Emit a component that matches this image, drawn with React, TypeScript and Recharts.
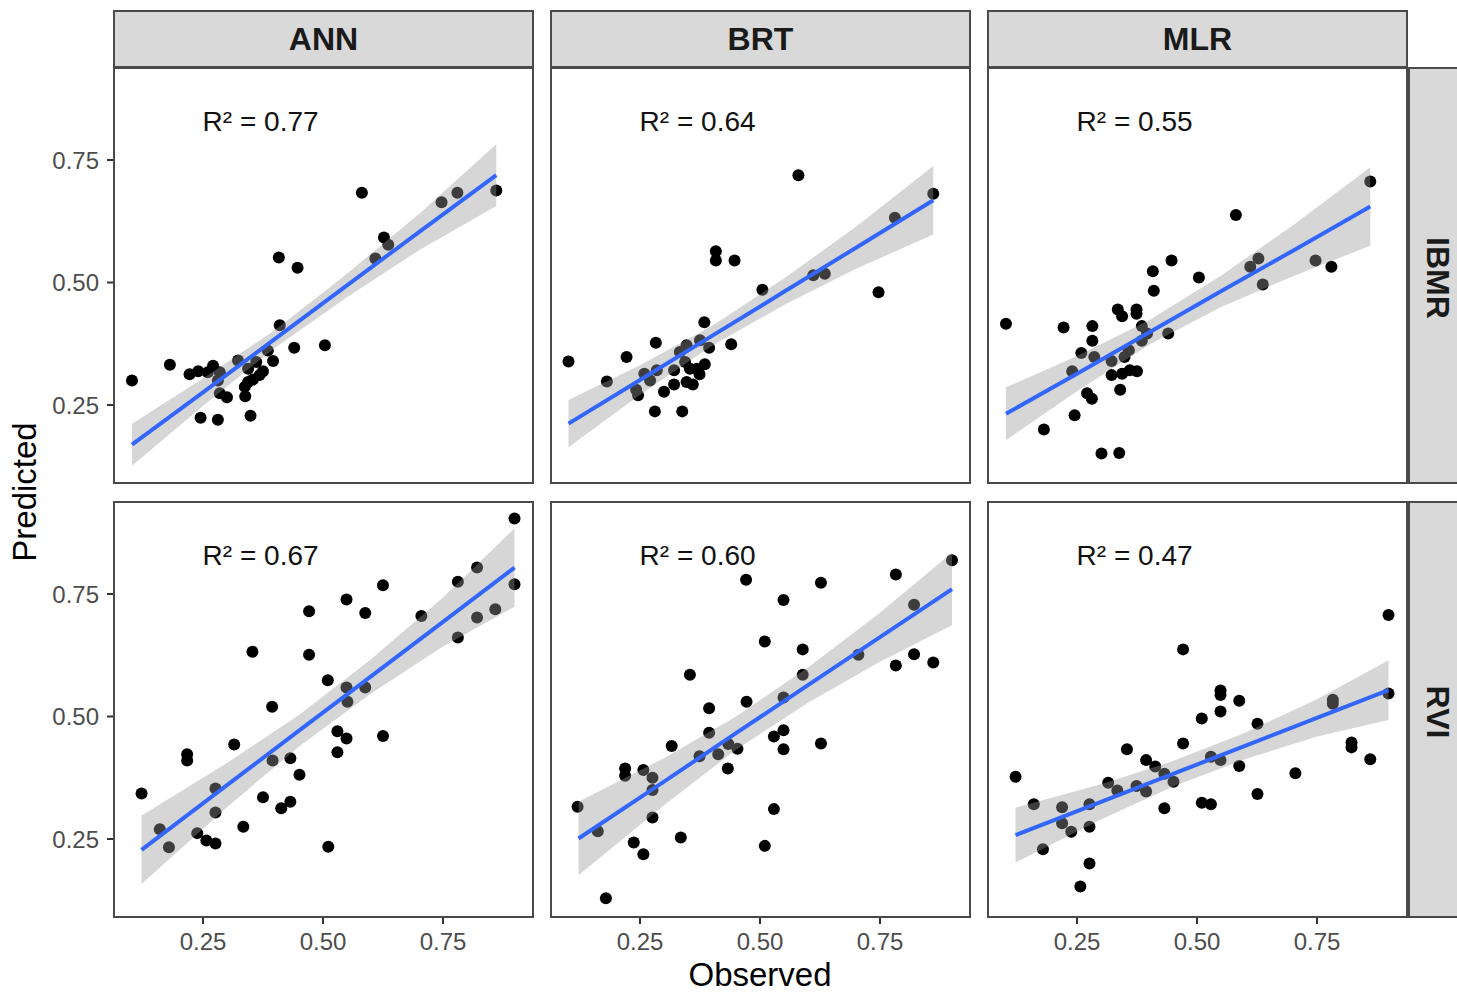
import { ComposedChart, Scatter, Line, Area, XAxis, YAxis, ReferenceDot } from 'recharts'

const FONT = '"Liberation Sans", Arial, Helvetica, sans-serif'

const models = ['ANN', 'BRT', 'MLR']
const indices = ['IBMR', 'RVI']
const r2Values = [
  ['0.77', '0.64', '0.55'],
  ['0.67', '0.60', '0.47'],
]
const axisTicks = [0.25, 0.5, 0.75]
const X_DOMAIN = [0.0625, 0.9396]
const Y_DOMAIN = [0.0888, 0.9398]

// observed / predicted, IBMR row
const annIbmrObs = [0.102, 0.181, 0.222, 0.240, 0.260, 0.271, 0.285, 0.281, 0.285, 0.300, 0.245, 0.281, 0.338, 0.349, 0.323, 0.344, 0.344, 0.354, 0.361, 0.375, 0.385, 0.396, 0.410, 0.440, 0.504, 0.408, 0.447, 0.581, 0.609, 0.627, 0.636, 0.747, 0.780, 0.861, 0.368, 0.337]
const annIbmrPred = [0.300, 0.332, 0.313, 0.319, 0.317, 0.330, 0.317, 0.300, 0.274, 0.266, 0.224, 0.220, 0.268, 0.228, 0.341, 0.324, 0.297, 0.302, 0.338, 0.319, 0.361, 0.340, 0.413, 0.367, 0.372, 0.551, 0.530, 0.683, 0.549, 0.592, 0.577, 0.664, 0.683, 0.688, 0.311, 0.287]

const brtIbmrObs = [0.101, 0.181, 0.222, 0.283, 0.259, 0.271, 0.285, 0.242, 0.246, 0.300, 0.321, 0.281, 0.338, 0.321, 0.333, 0.347, 0.344, 0.347, 0.360, 0.354, 0.368, 0.375, 0.374, 0.385, 0.394, 0.384, 0.440, 0.408, 0.408, 0.447, 0.505, 0.580, 0.611, 0.635, 0.747, 0.781, 0.861]
const brtIbmrPred = [0.339, 0.298, 0.348, 0.377, 0.314, 0.300, 0.321, 0.281, 0.270, 0.277, 0.292, 0.237, 0.237, 0.321, 0.358, 0.372, 0.338, 0.297, 0.292, 0.324, 0.324, 0.382, 0.313, 0.333, 0.367, 0.419, 0.374, 0.564, 0.545, 0.545, 0.485, 0.719, 0.515, 0.518, 0.480, 0.632, 0.681]

const mlrIbmrObs = [0.102, 0.181, 0.222, 0.245, 0.240, 0.259, 0.271, 0.281, 0.282, 0.282, 0.286, 0.301, 0.338, 0.322, 0.322, 0.340, 0.335, 0.344, 0.344, 0.349, 0.358, 0.360, 0.375, 0.374, 0.374, 0.385, 0.385, 0.396, 0.408, 0.410, 0.440, 0.447, 0.504, 0.581, 0.611, 0.628, 0.637, 0.747, 0.780, 0.861]
const mlrIbmrPred = [0.416, 0.200, 0.408, 0.229, 0.319, 0.356, 0.274, 0.263, 0.411, 0.381, 0.348, 0.151, 0.152, 0.340, 0.311, 0.281, 0.445, 0.431, 0.314, 0.348, 0.362, 0.321, 0.319, 0.445, 0.436, 0.411, 0.381, 0.396, 0.523, 0.483, 0.396, 0.545, 0.510, 0.638, 0.532, 0.549, 0.496, 0.545, 0.532, 0.706]

// observed / predicted, RVI row
const annRviObs = [0.122, 0.160, 0.179, 0.217, 0.217, 0.238, 0.257, 0.276, 0.276, 0.276, 0.315, 0.334, 0.353, 0.375, 0.394, 0.395, 0.413, 0.432, 0.432, 0.451, 0.471, 0.471, 0.510, 0.511, 0.530, 0.530, 0.549, 0.549, 0.551, 0.549, 0.588, 0.588, 0.625, 0.625, 0.705, 0.781, 0.781, 0.821, 0.821, 0.859, 0.899, 0.899]
const annRviPred = [0.343, 0.270, 0.233, 0.423, 0.410, 0.262, 0.247, 0.241, 0.353, 0.304, 0.443, 0.275, 0.632, 0.335, 0.520, 0.410, 0.313, 0.326, 0.415, 0.381, 0.715, 0.626, 0.574, 0.234, 0.470, 0.427, 0.739, 0.559, 0.530, 0.455, 0.711, 0.559, 0.768, 0.460, 0.705, 0.775, 0.661, 0.804, 0.702, 0.719, 0.904, 0.770]

const brtRviObs = [0.120, 0.162, 0.179, 0.219, 0.219, 0.237, 0.257, 0.257, 0.276, 0.276, 0.276, 0.316, 0.335, 0.354, 0.374, 0.394, 0.394, 0.413, 0.433, 0.434, 0.453, 0.471, 0.472, 0.510, 0.510, 0.529, 0.529, 0.549, 0.549, 0.549, 0.549, 0.589, 0.589, 0.627, 0.627, 0.705, 0.783, 0.783, 0.821, 0.821, 0.861, 0.900]
const brtRviPred = [0.316, 0.266, 0.129, 0.394, 0.379, 0.243, 0.391, 0.219, 0.375, 0.350, 0.294, 0.440, 0.253, 0.585, 0.419, 0.517, 0.467, 0.423, 0.394, 0.444, 0.434, 0.779, 0.530, 0.653, 0.236, 0.459, 0.311, 0.738, 0.539, 0.472, 0.433, 0.637, 0.585, 0.773, 0.445, 0.626, 0.790, 0.604, 0.728, 0.627, 0.610, 0.819]

const mlrRviObs = [0.122, 0.160, 0.179, 0.219, 0.219, 0.238, 0.257, 0.276, 0.276, 0.276, 0.315, 0.334, 0.354, 0.374, 0.394, 0.394, 0.413, 0.432, 0.432, 0.451, 0.471, 0.471, 0.510, 0.510, 0.529, 0.529, 0.549, 0.549, 0.549, 0.549, 0.588, 0.588, 0.626, 0.626, 0.705, 0.783, 0.783, 0.822, 0.822, 0.861, 0.899, 0.899]
const mlrRviPred = [0.377, 0.321, 0.229, 0.315, 0.282, 0.265, 0.153, 0.321, 0.275, 0.200, 0.365, 0.349, 0.433, 0.358, 0.411, 0.347, 0.398, 0.383, 0.313, 0.367, 0.637, 0.445, 0.496, 0.324, 0.418, 0.321, 0.553, 0.544, 0.510, 0.411, 0.532, 0.399, 0.485, 0.342, 0.384, 0.534, 0.526, 0.447, 0.437, 0.413, 0.707, 0.547]

// fitted line + 95% band
const annIbmrFitX = [0.102, 0.25, 0.40, 0.55, 0.70, 0.861]
const annIbmrFit = [0.169, 0.276, 0.385, 0.494, 0.603, 0.719]
const annIbmrLo = [0.126, 0.248, 0.367, 0.470, 0.566, 0.656]
const annIbmrHi = [0.212, 0.304, 0.403, 0.518, 0.640, 0.782]

const brtIbmrFitX = [0.101, 0.25, 0.40, 0.55, 0.70, 0.861]
const brtIbmrFit = [0.212, 0.301, 0.391, 0.481, 0.571, 0.668]
const brtIbmrLo = [0.164, 0.271, 0.371, 0.454, 0.528, 0.598]
const brtIbmrHi = [0.260, 0.331, 0.411, 0.508, 0.614, 0.738]

const mlrIbmrFitX = [0.102, 0.25, 0.40, 0.55, 0.70, 0.861]
const mlrIbmrFit = [0.232, 0.314, 0.398, 0.482, 0.565, 0.655]
const mlrIbmrLo = [0.178, 0.278, 0.373, 0.450, 0.513, 0.575]
const mlrIbmrHi = [0.286, 0.350, 0.423, 0.514, 0.617, 0.735]

const annRviFitX = [0.122, 0.30, 0.45, 0.60, 0.75, 0.899]
const annRviFit = [0.228, 0.360, 0.471, 0.582, 0.693, 0.804]
const annRviLo = [0.158, 0.315, 0.439, 0.547, 0.643, 0.724]
const annRviHi = [0.298, 0.405, 0.503, 0.617, 0.743, 0.884]

const brtRviFitX = [0.122, 0.30, 0.45, 0.60, 0.75, 0.90]
const brtRviFit = [0.251, 0.367, 0.466, 0.564, 0.662, 0.760]
const brtRviLo = [0.176, 0.319, 0.432, 0.528, 0.612, 0.686]
const brtRviHi = [0.326, 0.415, 0.500, 0.600, 0.712, 0.834]

const mlrRviFitX = [0.122, 0.30, 0.45, 0.60, 0.75, 0.899]
const mlrRviFit = [0.258, 0.326, 0.383, 0.440, 0.497, 0.554]
const mlrRviLo = [0.202, 0.290, 0.357, 0.413, 0.459, 0.493]
const mlrRviHi = [0.314, 0.362, 0.409, 0.467, 0.535, 0.615]

const panels = [
  { row: 0, col: 0, obs: annIbmrObs, pred: annIbmrPred, fitX: annIbmrFitX, fit: annIbmrFit, lo: annIbmrLo, hi: annIbmrHi },
  { row: 0, col: 1, obs: brtIbmrObs, pred: brtIbmrPred, fitX: brtIbmrFitX, fit: brtIbmrFit, lo: brtIbmrLo, hi: brtIbmrHi },
  { row: 0, col: 2, obs: mlrIbmrObs, pred: mlrIbmrPred, fitX: mlrIbmrFitX, fit: mlrIbmrFit, lo: mlrIbmrLo, hi: mlrIbmrHi },
  { row: 1, col: 0, obs: annRviObs, pred: annRviPred, fitX: annRviFitX, fit: annRviFit, lo: annRviLo, hi: annRviHi },
  { row: 1, col: 1, obs: brtRviObs, pred: brtRviPred, fitX: brtRviFitX, fit: brtRviFit, lo: brtRviLo, hi: brtRviHi },
  { row: 1, col: 2, obs: mlrRviObs, pred: mlrRviPred, fitX: mlrRviFitX, fit: mlrRviFit, lo: mlrRviLo, hi: mlrRviHi },
]

const COL_LEFT = [113, 550, 987]
const ROW_TOP = [67, 501]
const PANEL_W = 421
const PANEL_H = 417
const Y_AXIS_W = 113
const X_AXIS_H = 50
const BORDER = '2px solid #4a4a4a'
const STRIP_BG = '#d9d9d9'

const tickStyle = { fill: '#4d4d4d', fontSize: 24, fontFamily: FONT }
const fmt = (v: number) => v.toFixed(2)

const Dot = (props: any) => <circle cx={props.cx} cy={props.cy} r={6} fill="#000" />

function Panel({ p }: { p: (typeof panels)[number] }) {
  const showY = p.col === 0
  const showX = p.row === 1
  const width = PANEL_W + (showY ? Y_AXIS_W : 0)
  const height = PANEL_H + (showX ? X_AXIS_H : 0)
  const points = p.obs.map((x, i) => ({ x, y: p.pred[i] }))
  const fitData = p.fitX.map((x, i) => ({ x, fit: p.fit[i], band: [p.lo[i], p.hi[i]] }))

  return (
    <div style={{ position: 'absolute', left: COL_LEFT[p.col] - (showY ? Y_AXIS_W : 0), top: ROW_TOP[p.row] }}>
      <ComposedChart width={width} height={height} margin={{ top: 0, right: 0, bottom: 0, left: 0 }}>
        <XAxis
          type="number"
          dataKey="x"
          domain={X_DOMAIN}
          ticks={axisTicks}
          allowDataOverflow
          hide={!showX}
          height={X_AXIS_H}
          axisLine={false}
          tickLine={{ stroke: '#333', strokeWidth: 2 }}
          tickSize={6}
          tickMargin={9}
          tick={tickStyle}
          tickFormatter={fmt}
        />
        <YAxis
          type="number"
          dataKey="y"
          domain={Y_DOMAIN}
          ticks={axisTicks}
          allowDataOverflow
          hide={!showY}
          width={Y_AXIS_W}
          axisLine={false}
          tickLine={{ stroke: '#333', strokeWidth: 2 }}
          tickSize={6}
          tickMargin={8}
          tick={tickStyle}
          tickFormatter={fmt}
        />
        <Scatter data={points} shape={Dot} isAnimationActive={false} zIndex={100} />
        <Area
          data={fitData}
          dataKey="band"
          type="linear"
          stroke="none"
          fill="#999999"
          fillOpacity={0.4}
          isAnimationActive={false}
          zIndex={200}
        />
        <Line
          data={fitData}
          dataKey="fit"
          type="linear"
          stroke="#3366ff"
          strokeWidth={4}
          dot={false}
          activeDot={false}
          isAnimationActive={false}
          zIndex={300}
        />
        <ReferenceDot
          x={0.37}
          y={0.83}
          r={0}
          fill="none"
          stroke="none"
          label={{ value: `R² = ${r2Values[p.row][p.col]}`, position: 'center', fontSize: 28, fill: '#111', fontFamily: FONT }}
        />
      </ComposedChart>
      <div
        style={{
          position: 'absolute',
          left: showY ? Y_AXIS_W : 0,
          top: 0,
          width: PANEL_W,
          height: PANEL_H,
          border: BORDER,
          boxSizing: 'border-box',
          pointerEvents: 'none',
        }}
      />
    </div>
  )
}

export default function App() {
  return (
    <div
      style={{
        position: 'absolute',
        left: 0,
        top: 0,
        width: 1457,
        height: 994,
        background: '#fff',
        overflow: 'hidden',
        fontFamily: FONT,
      }}
    >
      {models.map((m, c) => (
        <div
          key={m}
          style={{
            position: 'absolute',
            left: COL_LEFT[c],
            top: 10,
            width: PANEL_W,
            height: 58,
            background: STRIP_BG,
            border: BORDER,
            boxSizing: 'border-box',
            display: 'flex',
            alignItems: 'center',
            justifyContent: 'center',
            fontSize: 32,
            fontWeight: 'bold',
            color: '#1a1a1a',
          }}
        >
          {m}
        </div>
      ))}
      {indices.map((name, r) => (
        <div
          key={name}
          style={{
            position: 'absolute',
            left: 1408,
            top: ROW_TOP[r],
            width: 58,
            height: PANEL_H,
            background: STRIP_BG,
            border: BORDER,
            boxSizing: 'border-box',
          }}
        >
          <div
            style={{
              position: 'absolute',
              left: 27,
              top: PANEL_H / 2,
              transform: 'translate(-50%, -50%) rotate(90deg)',
              whiteSpace: 'nowrap',
              fontSize: 32,
              fontWeight: 'bold',
              color: '#1a1a1a',
            }}
          >
            {name}
          </div>
        </div>
      ))}
      {panels.map((p) => (
        <Panel key={`${p.row}-${p.col}`} p={p} />
      ))}
      <div
        style={{
          position: 'absolute',
          left: 25,
          top: 492,
          transform: 'translate(-50%, -50%) rotate(-90deg)',
          whiteSpace: 'nowrap',
          fontSize: 33,
          color: '#000',
        }}
      >
        Predicted
      </div>
      <div
        style={{
          position: 'absolute',
          left: 760,
          top: 975,
          transform: 'translate(-50%, -50%)',
          whiteSpace: 'nowrap',
          fontSize: 33,
          color: '#000',
        }}
      >
        Observed
      </div>
    </div>
  )
}
